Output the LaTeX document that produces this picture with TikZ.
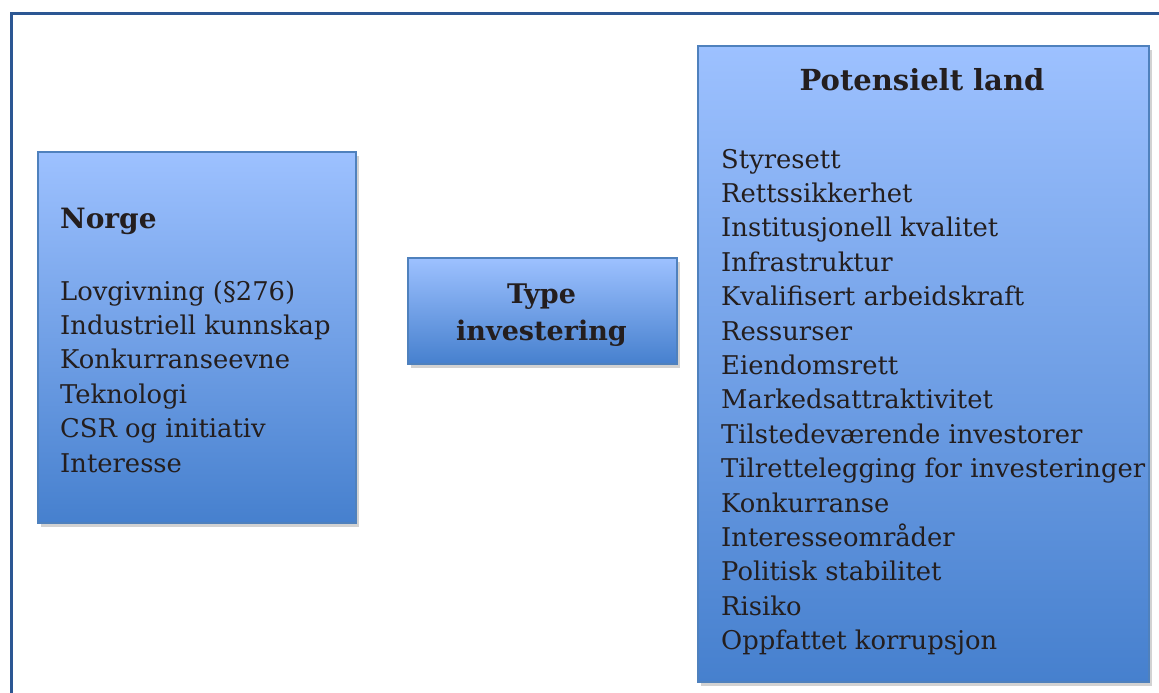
\documentclass[tikz,border=0pt]{standalone}
\usepackage{fontspec}
\setmainfont{DejaVu Serif}
\usetikzlibrary{shadows}
\definecolor{frameblue}{RGB}{44,87,147}
\definecolor{boxtop}{RGB}{157,193,255}
\definecolor{boxbot}{RGB}{70,128,206}
\definecolor{boxline}{RGB}{79,129,189}
\definecolor{txt}{RGB}{36,30,30}
\tikzset{
  panel/.style={draw=boxline, line width=2pt, top color=boxtop, bottom color=boxbot,
    drop shadow={opacity=0.35, shadow xshift=3pt, shadow yshift=-4pt},
    inner sep=0pt, anchor=north west},
  title/.style={font=\fontsize{28}{34}\selectfont\bfseries, text=txt, inner sep=0pt},
  listtxt/.style={font=\fontsize{25.8}{34.4}\selectfont, text=txt, align=left, inner sep=0pt, anchor=base west}
}
\begin{document}
\begin{tikzpicture}[x=1pt,y=-1pt]
\useasboundingbox (0,0) rectangle (1159,693);
\fill[white] (0,0) rectangle (1159,693);
% outer frame
\draw[frameblue, line width=3pt] (11,700) -- (11,14) -- (1170,14);
% boxes
\node[panel, minimum width=318pt, minimum height=371pt] (norge) at (37,151) {};
\node[panel, minimum width=269pt, minimum height=106pt] (type) at (407,257) {};
\node[panel, minimum width=451pt, minimum height=636pt] (land) at (697,45) {};
% titles
\node[title, anchor=base west] (norget) at (60,228) {Norge};
\node[title, align=center, anchor=base, font=\fontsize{27}{37}\selectfont\bfseries] (typet) at (541.5,340) {Type\\investering};
\node[title, anchor=base, font=\fontsize{29}{36}\selectfont\bfseries] (landt) at (922,90) {Potensielt land};
% lists (anchor base = last line baseline)
\node[listtxt] (norgel) at (60,472) {Lovgivning (§276)\\Industriell kunnskap\\Konkurranseevne\\Teknologi\\CSR og initiativ\\Interesse};
\node[listtxt] (landl) at (721,649.6) {Styresett\\Rettssikkerhet\\Institusjonell kvalitet\\Infrastruktur\\Kvalifisert arbeidskraft\\Ressurser\\Eiendomsrett\\Markedsattraktivitet\\Tilstedeværende investorer\\Tilrettelegging for investeringer\\Konkurranse\\Interesseområder\\Politisk stabilitet\\Risiko\\Oppfattet korrupsjon};
\end{tikzpicture}
\end{document}
